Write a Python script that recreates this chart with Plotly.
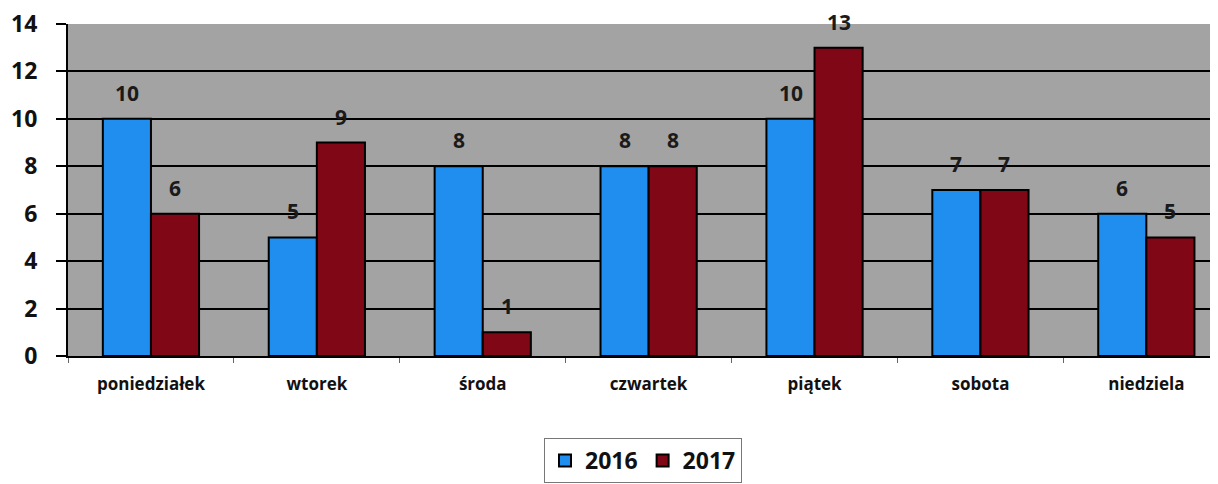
import plotly.graph_objects as go

categories = ["poniedziałek", "wtorek", "środa", "czwartek", "piątek", "sobota", "niedziela"]
values_2016 = [10, 5, 8, 8, 10, 7, 6]
values_2017 = [6, 9, 1, 8, 13, 7, 5]
y_ticks = [0, 2, 4, 6, 8, 10, 12, 14]

FONT = "Open Sans"
BLUE = "#1f8eef"
RED = "#800716"

fig = go.Figure()
fig.add_trace(go.Bar(name="2016", x=categories, y=values_2016, marker=dict(color=BLUE, line=dict(color="black", width=2))))
fig.add_trace(go.Bar(name="2017", x=categories, y=values_2017, marker=dict(color=RED, line=dict(color="black", width=2))))

for vals, shift in ((values_2016, -24), (values_2017, 24)):
    for c, v in zip(categories, vals):
        fig.add_annotation(x=c, y=v, text=f"<b>{v}</b>", showarrow=False, xshift=shift, yshift=26,
                           font=dict(family=FONT, size=21, color="#1a1a1a"))

fig.update_layout(
    width=1210, height=476,
    margin=dict(l=60, r=0, t=16, b=128, autoexpand=False),
    paper_bgcolor="white", plot_bgcolor="#a3a3a3",
    barmode="group", bargap=0.42, bargroupgap=0,
    showlegend=True,
    legend=dict(orientation="h", x=0.5, xanchor="center", y=-0.247, yanchor="top",
                bordercolor="#777777", borderwidth=1, bgcolor="white",
                font=dict(family=FONT, size=23, color="#111111", weight="bold"),
                itemwidth=30, traceorder="normal"),
    font=dict(family=FONT),
)
fig.update_xaxes(range=[-0.5, 6.432], tickson="boundaries", ticks="outside", ticklen=5, tickcolor="#666666",
                 showline=True, linecolor="black", linewidth=2, showgrid=False, automargin=False,
                 tickfont=dict(family=FONT, size=17, color="#111111", weight="bold"), ticklabelstandoff=12)
fig.update_yaxes(range=[0, 14], tickvals=y_ticks, ticks="outside", ticklen=10, tickcolor="black", tickwidth=1.5,
                 showline=True, linecolor="black", linewidth=2, automargin=False, ticklabeloverflow="allow",
                 showgrid=True, gridcolor="black", gridwidth=1.5, zeroline=False,
                 tickfont=dict(family=FONT, size=23, color="#111111", weight="bold"), ticklabelstandoff=14)

fig.write_html("out.html")
